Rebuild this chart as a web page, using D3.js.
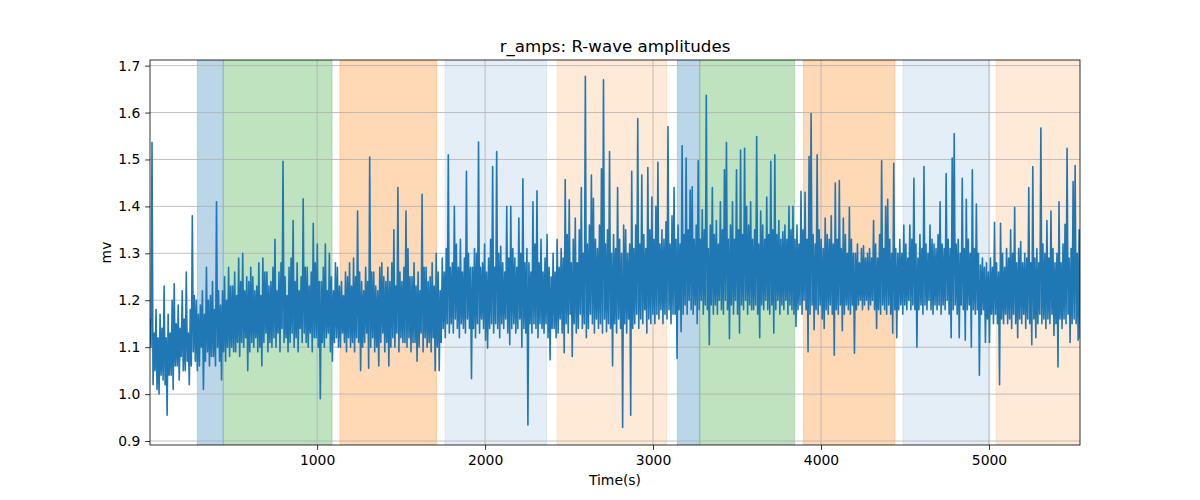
<!DOCTYPE html>
<html><head><meta charset="utf-8">
<script src="https://cdn.jsdelivr.net/npm/d3@7"></script>
<style>body{margin:0;background:#fff}svg{display:block}text{font-family:"DejaVu Sans",sans-serif;fill:#000}</style>
</head><body><svg id="c" width="1200" height="500"></svg>
<script>
// ---- data ----
const title = "r_amps: R-wave amplitudes";
const xLabel = "Time(s)";
const yLabel = "mv";
const xTicks = [1000, 2000, 3000, 4000, 5000];
const yTicks = [0.9, 1.0, 1.1, 1.2, 1.3, 1.4, 1.5, 1.6, 1.7];
const xDomain = [5, 5542];
const yDomain = [0.8915, 1.712];
const sampleStart = 5, sampleStep = 6;   // seconds between samples
const amps = [
1.16,1.10,1.536,1.02,1.13,1.05,1.18,1.01,1.12,1.00,1.17,1.04,1.14,1.03,1.23,1.02,1.12,0.955,1.17,1.04,
1.13,1.04,1.20,1.01,1.235,1.06,1.15,1.06,1.19,1.03,1.14,1.08,1.22,1.05,1.16,1.05,1.26,1.07,1.13,1.02,
1.18,1.06,1.38,1.09,1.21,1.07,1.20,1.05,1.17,1.06,1.19,1.10,1.22,1.01,1.17,1.07,1.27,1.09,1.20,1.06,
1.21,1.08,1.24,1.08,1.18,1.06,1.41,1.10,1.22,1.07,1.19,1.03,1.22,1.09,1.25,1.07,1.20,1.10,1.27,1.08,
1.23,1.10,1.23,1.09,1.26,1.09,1.21,1.11,1.29,1.08,1.24,1.11,1.30,1.10,1.22,1.12,1.25,1.05,1.24,1.09,
1.27,1.11,1.25,1.10,1.22,1.12,1.23,1.09,1.28,1.10,1.21,1.06,1.29,1.11,1.26,1.13,1.26,1.09,1.23,1.11,
1.24,1.10,1.27,1.12,1.33,1.10,1.22,1.13,1.26,1.09,1.28,1.14,1.496,1.11,1.25,1.12,1.21,1.09,1.27,1.11,
1.29,1.13,1.37,1.10,1.24,1.12,1.28,1.09,1.22,1.14,1.25,1.11,1.416,1.13,1.27,1.11,1.27,1.10,1.23,1.13,
1.26,1.09,1.364,1.12,1.28,1.12,1.32,1.10,1.24,0.99,1.24,1.11,1.27,1.10,1.32,1.12,1.22,1.13,1.30,1.09,
1.25,1.07,1.22,1.11,1.28,1.12,1.27,1.10,1.23,1.10,1.24,1.13,1.21,1.11,1.26,1.09,1.25,1.12,1.28,1.10,
1.23,1.11,1.29,1.09,1.25,1.12,1.39,1.11,1.26,1.05,1.24,1.10,1.22,1.11,1.27,1.13,1.24,1.055,1.505,1.10,
1.26,1.12,1.26,1.09,1.23,1.10,1.22,1.06,1.27,1.11,1.28,1.13,1.25,1.09,1.24,1.11,1.27,1.06,1.24,1.10,
1.28,1.12,1.35,1.10,1.23,1.13,1.44,1.09,1.26,1.12,1.24,1.11,1.27,1.11,1.39,1.10,1.31,1.12,1.25,1.09,
1.25,1.11,1.28,1.11,1.23,1.07,1.26,1.10,1.22,1.13,1.426,1.09,1.27,1.12,1.27,1.10,1.24,1.11,1.25,1.09,
1.28,1.12,1.23,1.05,1.30,1.10,1.26,1.05,1.22,1.11,1.29,1.14,1.26,1.12,1.31,1.15,1.51,1.13,1.27,1.15,
1.28,1.13,1.40,1.16,1.32,1.14,1.27,1.12,1.33,1.15,1.26,1.14,1.29,1.13,1.475,1.16,1.30,1.14,1.27,1.033,
1.27,1.14,1.31,1.12,1.30,1.15,1.537,1.13,1.27,1.16,1.28,1.14,1.32,1.115,1.26,1.098,1.29,1.14,1.33,1.15,
1.485,1.13,1.27,1.15,1.517,1.14,1.30,1.12,1.315,1.15,1.28,1.14,1.26,1.16,1.40,1.13,1.29,1.105,1.40,1.14,
1.31,1.15,1.29,1.13,1.27,1.14,1.375,1.16,1.30,1.10,1.459,1.14,1.28,1.13,1.31,0.934,1.28,1.15,1.26,1.13,
1.41,1.15,1.32,1.14,1.433,1.12,1.28,1.15,1.33,1.14,1.26,1.13,1.29,1.15,1.34,1.12,1.27,1.073,1.25,1.14,
1.30,1.14,1.26,1.12,1.33,1.13,1.27,1.16,1.31,1.13,1.29,1.088,1.457,1.15,1.34,1.13,1.414,1.17,1.28,1.08,
1.33,1.15,1.375,1.13,1.28,1.14,1.35,1.17,1.44,1.14,1.30,1.15,1.677,1.12,1.32,1.14,1.36,1.17,1.467,1.15,
1.417,1.13,1.33,1.16,1.31,1.14,1.36,1.15,1.48,1.13,1.67,1.16,1.32,1.133,1.35,1.15,1.517,1.14,1.30,1.06,
1.34,1.15,1.31,1.13,1.44,1.16,1.33,1.14,1.30,0.929,1.36,1.15,1.35,1.13,1.30,1.16,1.32,0.955,1.475,1.14,
1.31,1.15,1.36,1.17,1.587,1.14,1.32,1.16,1.467,1.15,1.34,1.18,1.31,1.13,1.483,1.16,1.35,1.15,1.42,1.17,
1.33,1.15,1.40,1.17,1.494,1.16,1.32,1.18,1.35,1.15,1.33,1.17,1.367,1.16,1.57,1.18,1.32,1.15,1.38,1.17,
1.44,1.17,1.33,1.076,1.36,1.18,1.32,1.133,1.529,1.17,1.34,1.19,1.503,1.17,1.35,1.20,1.435,1.18,1.442,1.17,
1.33,1.19,1.36,1.15,1.497,1.18,1.33,1.20,1.393,1.17,1.35,1.19,1.637,1.18,1.31,1.105,1.36,1.19,1.44,1.17,
1.34,1.19,1.37,1.17,1.32,1.20,1.41,1.18,1.35,1.17,1.478,1.20,1.536,1.18,1.33,1.118,1.36,1.19,1.41,1.17,
1.33,1.20,1.478,1.17,1.35,1.13,1.52,1.19,1.34,1.18,1.524,1.20,1.40,1.17,1.36,1.19,1.41,1.18,1.33,1.18,
1.35,1.19,1.549,1.17,1.32,1.12,1.39,1.19,1.36,1.18,1.33,1.20,1.42,1.18,1.34,1.17,1.496,1.19,1.35,1.13,
1.51,1.18,1.34,1.20,1.37,1.17,1.33,1.19,1.346,1.18,1.36,1.20,1.33,1.17,1.40,1.19,1.35,1.18,1.40,1.17,
1.33,1.144,1.36,1.18,1.32,1.19,1.432,1.17,1.35,1.20,1.43,1.18,1.33,1.09,1.506,1.17,1.598,1.19,1.34,1.137,
1.32,1.18,1.51,1.17,1.35,1.19,1.33,1.16,1.31,1.14,1.375,1.18,1.34,1.17,1.33,1.19,1.38,1.17,1.32,1.083,
1.45,1.18,1.33,1.17,1.455,1.19,1.31,1.135,1.375,1.17,1.34,1.19,1.30,1.18,1.398,1.17,1.33,1.19,1.30,1.087,
1.30,1.18,1.32,1.19,1.28,1.20,1.31,1.18,1.316,1.19,1.29,1.20,1.30,1.18,1.31,1.19,1.29,1.20,1.37,1.18,
1.32,1.14,1.29,1.18,1.34,1.17,1.497,1.19,1.31,1.18,1.40,1.17,1.415,1.19,1.33,1.17,1.30,1.13,1.492,1.18,
1.31,1.12,1.30,1.18,1.33,1.19,1.30,1.17,1.36,1.19,1.32,1.18,1.29,1.20,1.36,1.18,1.33,1.19,1.46,1.18,
1.32,1.10,1.29,1.18,1.34,1.19,1.31,1.17,1.485,1.19,1.32,1.18,1.30,1.20,1.36,1.18,1.33,1.17,1.32,1.19,
1.31,1.18,1.34,1.19,1.41,1.17,1.32,1.19,1.31,1.18,1.47,1.20,1.33,1.17,1.31,1.12,1.503,1.18,1.555,1.19,
1.32,1.17,1.33,1.12,1.30,1.19,1.46,1.18,1.31,1.115,1.415,1.18,1.33,1.19,1.30,1.10,1.478,1.18,1.31,1.17,
1.405,1.18,1.30,1.04,1.275,1.17,1.29,1.18,1.27,1.11,1.28,1.16,1.26,1.11,1.29,1.17,1.27,1.15,1.366,1.17,
1.28,1.15,1.26,1.02,1.364,1.16,1.30,1.15,1.27,1.17,1.31,1.15,1.29,1.16,1.35,1.14,1.30,1.17,1.398,1.15,
1.28,1.12,1.31,1.16,1.325,1.15,1.28,1.17,1.30,1.14,1.29,1.16,1.44,1.15,1.28,1.105,1.485,1.16,1.29,1.12,
1.31,1.15,1.28,1.17,1.567,1.15,1.32,1.16,1.30,1.14,1.37,1.16,1.29,1.15,1.39,1.17,1.31,1.125,1.28,1.15,
1.30,1.058,1.41,1.16,1.28,1.14,1.32,1.16,1.362,1.15,1.524,1.17,1.29,1.11,1.31,1.15,1.453,1.16,1.487,1.15,
1.30,1.115,1.35,1.12
];
const spanStarts = [287, 441, 1136, 1761, 2428, 3145, 3278, 3895, 4488, 5042];
const spanEnds   = [441, 1089, 1712, 2367, 3081, 3278, 3843, 4441, 5006, 5600];
const spanKinds  = ["blue", "green", "orange", "lightblue", "lightorange", "blue", "green", "orange", "lightblue", "lightorange"];

// ---- styles ----
const spanStyle = {
  blue:        {c: "#1f77b4", a: 0.3},
  green:       {c: "#2ca02c", a: 0.3},
  orange:      {c: "#ff7f0e", a: 0.3},
  lightblue:   {c: "#1f77b4", a: 0.12},
  lightorange: {c: "#ff7f0e", a: 0.16}
};
const L = 150, R = 1080, T = 60, B = 445;

const svg = d3.select("#c");
const x = d3.scaleLinear().domain(xDomain).range([L, R]);
const y = d3.scaleLinear().domain(yDomain).range([B, T]);

svg.append("defs").append("clipPath").attr("id", "clip")
  .append("rect").attr("x", L).attr("y", T).attr("width", R - L).attr("height", B - T);

const plot = svg.append("g").attr("clip-path", "url(#clip)");

// spans
plot.append("g").selectAll("rect").data(spanStarts.map((s, i) => ({s, e: spanEnds[i], k: spanKinds[i]})))
  .join("rect")
  .attr("x", d => x(d.s)).attr("width", d => x(d.e) - x(d.s))
  .attr("y", T).attr("height", B - T)
  .attr("fill", d => spanStyle[d.k].c).attr("fill-opacity", d => spanStyle[d.k].a)
  .attr("stroke", d => spanStyle[d.k].c).attr("stroke-opacity", d => spanStyle[d.k].a * 0.8)
  .attr("stroke-width", 1);

// grid
const grid = plot.append("g").attr("stroke", "#b0b0b0").attr("stroke-width", 0.8);
grid.selectAll(".gx").data(xTicks).join("line")
  .attr("x1", d => x(d)).attr("x2", d => x(d)).attr("y1", T).attr("y2", B);
grid.selectAll(".gy").data(yTicks).join("line")
  .attr("y1", d => y(d)).attr("y2", d => y(d)).attr("x1", L).attr("x2", R);

// line
const pts = amps.map((v, i) => ({t: sampleStart + i * sampleStep, v}));
plot.append("path").datum(pts)
  .attr("fill", "none").attr("stroke", "#1f77b4").attr("stroke-width", 1.6)
  .attr("stroke-linejoin", "round").attr("stroke-linecap", "square")
  .attr("d", d3.line().x(d => x(d.t)).y(d => y(d.v)));

// axes
const xAxis = d3.axisBottom(x).tickValues(xTicks).tickFormat(d3.format("d")).tickSizeOuter(0).tickSize(4.86).tickPadding(4.86);
const yAxis = d3.axisLeft(y).tickValues(yTicks).tickFormat(d3.format(".1f")).tickSizeOuter(0).tickSize(4.86).tickPadding(4.86);
const gx = svg.append("g").attr("transform", `translate(0,${B})`).call(xAxis);
const gy = svg.append("g").attr("transform", `translate(${L},0)`).call(yAxis);
[gx, gy].forEach(g => {
  g.select(".domain").remove();
  g.selectAll(".tick line").attr("stroke", "#000").attr("stroke-width", 0.8);
  g.selectAll(".tick text").attr("font-size", "13.9px").attr("font-family", "DejaVu Sans");
});

// frame
svg.append("rect").attr("x", L).attr("y", T).attr("width", R - L).attr("height", B - T)
  .attr("fill", "none").attr("stroke", "#000").attr("stroke-width", 0.8);

// texts
svg.append("text").attr("x", (L + R) / 2).attr("y", 52).attr("text-anchor", "middle")
  .attr("font-size", "16.67px").text(title);
svg.append("text").attr("x", (L + R) / 2).attr("y", 485).attr("text-anchor", "middle")
  .attr("font-size", "13.9px").text(xLabel);
svg.append("text").attr("transform", `translate(111,${(T + B) / 2}) rotate(-90)`).attr("text-anchor", "middle")
  .attr("font-size", "13.9px").text(yLabel);
</script></body></html>
